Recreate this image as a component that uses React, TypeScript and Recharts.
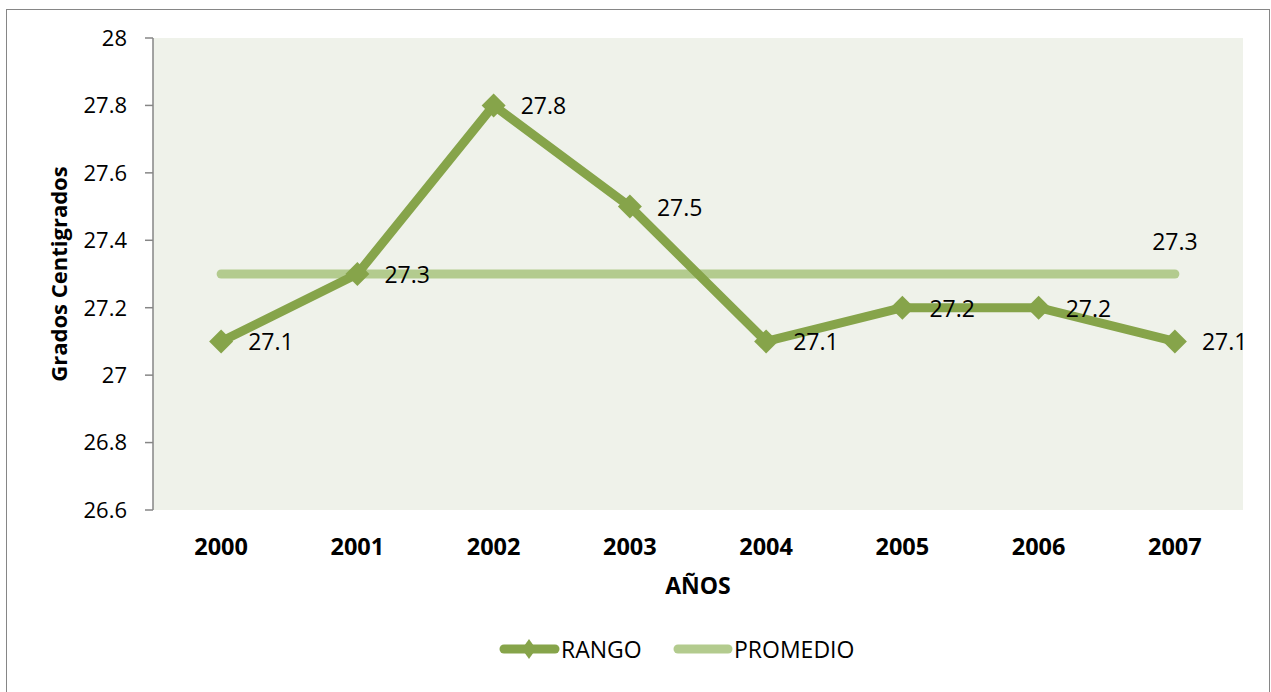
import { LineChart, Line, XAxis, YAxis, Legend, LabelList } from 'recharts'

const years = ['2000', '2001', '2002', '2003', '2004', '2005', '2006', '2007']
const rango = [27.1, 27.3, 27.8, 27.5, 27.1, 27.2, 27.2, 27.1]
const promedio = [27.3, 27.3, 27.3, 27.3, 27.3, 27.3, 27.3, 27.3]
const yTicks = [26.6, 26.8, 27, 27.2, 27.4, 27.6, 27.8, 28]

const data = years.map((y, i) => ({ x: i + 0.5, year: y, rango: rango[i], promedio: promedio[i] }))

const FONT = '"Open Sans", "Liberation Sans", sans-serif'
const RANGO_COLOR = '#86a44a'
const PROM_COLOR = '#b3cb8e'
const AXIS = '#868686'

const Diamond = (props: any) => {
  const { cx, cy } = props
  if (cx == null || cy == null) return null
  const r = 12
  return <polygon points={`${cx},${cy - r} ${cx + r},${cy} ${cx},${cy + r} ${cx - r},${cy}`} fill={RANGO_COLOR} />
}

const RangoLabel = (props: any) => {
  const { x, y, value } = props
  return (
    <text x={x + 27} y={y} dominantBaseline="central" fontSize={23} fontFamily={FONT} fill="#000">
      {value}
    </text>
  )
}

const PromLabel = (props: any) => {
  const { x, y, value, index } = props
  if (index !== years.length - 1) return null
  return (
    <text x={x} y={y - 33} textAnchor="middle" dominantBaseline="central" fontSize={23} fontFamily={FONT} fill="#000">
      {value}
    </text>
  )
}

const LegendContent = () => (
  <div style={{ height: 60, position: 'relative', fontFamily: FONT }}>
    <svg width={1271} height={60} style={{ position: 'absolute', left: 0, top: 0 }}>
      <line x1={504} y1={17} x2={555} y2={17} stroke={RANGO_COLOR} strokeWidth={9} strokeLinecap="round" />
      <polygon points="529,7 536,17 529,27 522,17" fill={RANGO_COLOR} />
      <text x={561} y={17} dominantBaseline="central" fontSize={23} fontFamily={FONT}>RANGO</text>
      <line x1={678} y1={17} x2={728} y2={17} stroke={PROM_COLOR} strokeWidth={9} strokeLinecap="round" />
      <text x={734} y={17} dominantBaseline="central" fontSize={23} fontFamily={FONT}>PROMEDIO</text>
    </svg>
  </div>
)

export default function App() {
  return (
    <div style={{ position: 'absolute', left: 0, top: 0, width: 1271, height: 692, background: '#fff' }}>
      <div
        style={{
          position: 'absolute',
          left: 6,
          top: 9,
          width: 1264,
          height: 690,
          border: `1.5px solid ${AXIS}`,
          boxSizing: 'border-box',
        }}
      />
      <LineChart
        width={1271}
        height={692}
        data={data}
        margin={{ top: 38, right: 28, bottom: 0, left: 0 }}
        style={{ position: 'absolute', left: 0, top: 0 }}
      >
        <rect x={153} y={38} width={1090} height={472} fill="#eff2ea" />
        <XAxis
          xAxisId="ticks"
          type="number"
          dataKey="x"
          domain={[0, 8]}
          ticks={[0, 1, 2, 3, 4, 5, 6, 7, 8]}
          tick={false}
          height={0}
          tickSize={7}
          stroke={AXIS}
          strokeWidth={1.5}
        />
        <XAxis
          xAxisId="labels"
          type="number"
          dataKey="x"
          domain={[0, 8]}
          ticks={data.map((d) => d.x)}
          tickFormatter={(v: number) => years[Math.floor(v)]}
          axisLine={false}
          tickLine={false}
          tickSize={0}
          tickMargin={28}
          height={122}
          tick={{ fontSize: 23.5, fontWeight: 700, fill: '#000', fontFamily: FONT }}
          label={{
            content: (p: any) => (
              <text
                x={p.viewBox.x + p.viewBox.width / 2}
                y={585}
                textAnchor="middle"
                dominantBaseline="central"
                fontSize={23}
                fontWeight={700}
                fontFamily={FONT}
              >
                AÑOS
              </text>
            ),
          }}
        />
        <YAxis
          domain={[26.6, 28]}
          ticks={yTicks}
          width={153}
          tickSize={8}
          tickMargin={18}
          stroke={AXIS}
          strokeWidth={1.5}
          tick={{ fontSize: 22, fill: '#000', fontFamily: FONT }}
          label={{
            content: (p: any) => (
              <text
                x={58}
                y={p.viewBox.y + p.viewBox.height / 2}
                textAnchor="middle"
                dominantBaseline="central"
                transform={`rotate(-90, 58, ${p.viewBox.y + p.viewBox.height / 2})`}
                fontSize={22}
                fontWeight={700}
                fontFamily={FONT}
              >
                Grados Centigrados
              </text>
            ),
          }}
        />
        <Legend verticalAlign="bottom" content={<LegendContent />} wrapperStyle={{ left: 0, width: 1271 }} />
        <Line
          xAxisId="labels"
          dataKey="promedio"
          name="PROMEDIO"
          stroke={PROM_COLOR}
          strokeWidth={9}
          strokeLinecap="round"
          dot={false}
          activeDot={false}
          isAnimationActive={false}
        >
          <LabelList dataKey="promedio" content={<PromLabel />} />
        </Line>
        <Line
          xAxisId="labels"
          dataKey="rango"
          name="RANGO"
          stroke={RANGO_COLOR}
          strokeWidth={9}
          strokeLinejoin="round"
          dot={<Diamond />}
          activeDot={false}
          isAnimationActive={false}
        >
          <LabelList dataKey="rango" content={<RangoLabel />} />
        </Line>
      </LineChart>
    </div>
  )
}
